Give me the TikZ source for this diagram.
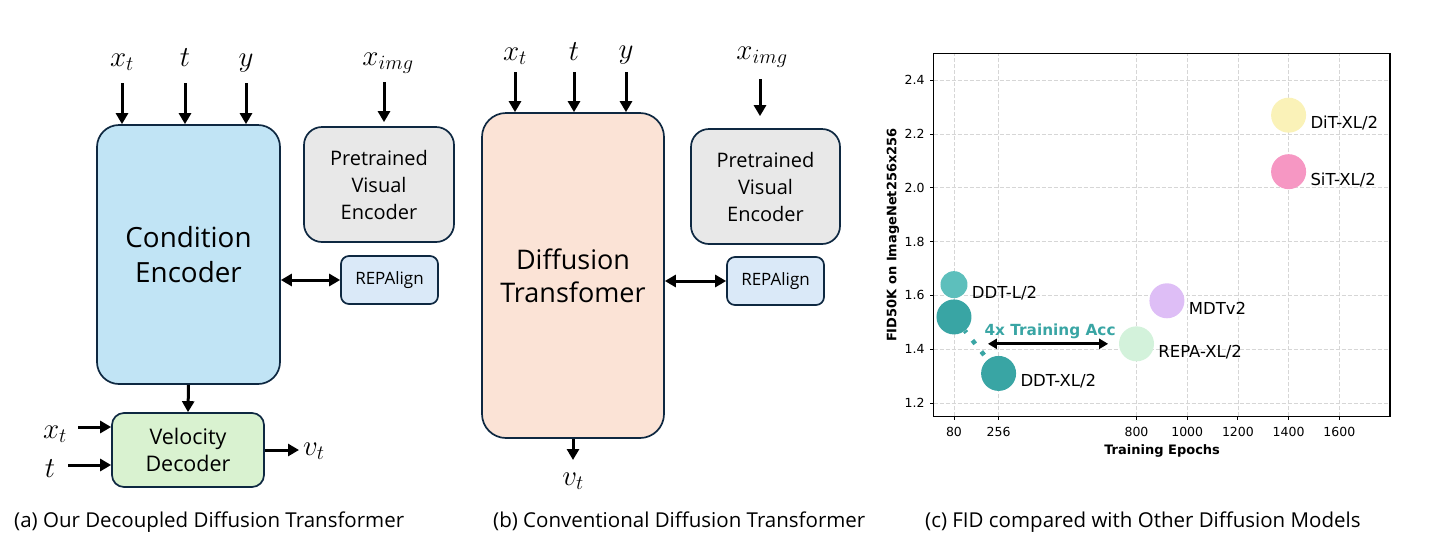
\RequirePackage{fix-cm}
\documentclass[tikz,border=0pt]{standalone}
\usepackage{fontspec}
\setmainfont{Open Sans}
\newfontfamily\plotfont{DejaVu Sans}
\usepackage{xcolor}
\usetikzlibrary{positioning,shapes,arrows.meta}

\definecolor{boxline}{HTML}{0E2841}
\definecolor{encblue}{HTML}{C1E4F5}
\definecolor{pregray}{HTML}{E8E8E8}
\definecolor{repblue}{HTML}{DAE9F8}
\definecolor{decgreen}{HTML}{D9F2D0}
\definecolor{ditpeach}{HTML}{FBE3D6}
\definecolor{dityellow}{HTML}{FAF2B8}
\definecolor{sitpink}{HTML}{F697C3}
\definecolor{mdtpurple}{HTML}{DEBEF6}
\definecolor{repagreen}{HTML}{D3F2DB}
\definecolor{ddtlight}{HTML}{5DBFBC}
\definecolor{ddtdark}{HTML}{39A5A4}
\definecolor{gridgray}{HTML}{D6D6D6}

\begin{document}
\begin{tikzpicture}[x=1pt, y=-1pt,
block/.style={draw=boxline, line width=1.7pt, align=center, inner sep=0pt},
inlabel/.style={font=\fontsize{29}{30}\selectfont, inner sep=1pt, anchor=base},
arr/.style={-{Triangle[length=11pt, width=12pt]}, line width=3pt},
darr/.style={{Triangle[length=11pt, width=12pt]}-{Triangle[length=11pt, width=12pt]}, line width=3pt},
caption/.style={font=\fontsize{20.5}{22}\selectfont, anchor=base west, inner sep=0pt},
grid/.style={gridgray, line width=0.7pt, dash pattern=on 4pt off 2pt},
bubble/.style={circle, minimum size=35pt, inner sep=0pt},
plabel/.style={font=\plotfont\fontsize{16.5}{18}\selectfont, inner sep=0pt, right=4pt of #1, yshift=-8pt},
ytick/.style={font=\plotfont\fontsize{12.5}{14}\selectfont, inner sep=0pt, anchor=east, xshift=-9pt},
xtick/.style={font=\plotfont\fontsize{12.5}{14}\selectfont, inner sep=0pt, anchor=north, yshift=-10.5pt},
]
\useasboundingbox (0,0) rectangle (1456,542);

% (a) decoupled
\node[block, fill=encblue, minimum width=183pt, minimum height=259pt, rounded corners=22pt, font=\fontsize{27.8}{35}\selectfont] (ce) at (188.5,254.5) {Condition\\Encoder};
\node[block, fill=pregray, minimum width=150pt, minimum height=115pt, rounded corners=18pt, font=\fontsize{20}{27}\selectfont] (pve) at (379,184.5) {Pretrained\\Visual\\Encoder};
\node[block, fill=repblue, minimum width=97pt, minimum height=48pt, rounded corners=8pt, font=\fontsize{17}{18}\selectfont] (rep) at (389.5,280) {REPAlign};
\node[block, fill=decgreen, minimum width=152pt, minimum height=74pt, rounded corners=12pt, font=\fontsize{21.5}{27}\selectfont] (vd) at (188,450) {Velocity\\Decoder};

\node[inlabel] (xt) at (122,66) {$x_t$};
\node[inlabel] (t) at (185,66) {$t$};
\node[inlabel] (y) at (246,66) {$y$};
\node[inlabel] (ximg) at (388,65) {$x_{img}$};
\node[inlabel] (xtd) at (55,438) {$x_t$};
\node[inlabel] (td) at (50,477) {$t$};
\node[inlabel, anchor=base west] (vt) at (302,455) {$v_t$};

\draw[arr] ([yshift=-17pt]xt.base) -- (xt.base |- ce.north);
\draw[arr] ([yshift=-17pt]t.base) -- (t.base |- ce.north);
\draw[arr] ([yshift=-17pt]y.base) -- (y.base |- ce.north);
\draw[arr] ([yshift=-17pt,xshift=-4pt]ximg.base) -- ([xshift=-4pt,yshift=4pt]ximg.base |- pve.north);
\draw[darr] (ce.east |- rep.west) -- (rep.west);
\draw[arr] (ce.south) -- (vd.north);
\draw[arr] ([xshift=10pt,yshift=11pt]xtd.base east) -- ([yshift=11pt]xtd.base -| vd.west);
\draw[arr] ([xshift=12pt,yshift=12pt]td.base east) -- ([yshift=12pt]td.base -| vd.west);
\draw[arr, shorten >=3pt] (vd.east) -- (vd.east -| vt.west);

% (b) conventional
\node[block, fill=ditpeach, minimum width=182pt, minimum height=325pt, rounded corners=24pt, font=\fontsize{27}{33}\selectfont] (dt) at (573,275.5) {Diffusion\\Transfomer};
\node[block, fill=pregray, minimum width=149pt, minimum height=115pt, rounded corners=18pt, font=\fontsize{20}{27}\selectfont] (pve2) at (765.5,186.5) {Pretrained\\Visual\\Encoder};
\node[block, fill=repblue, minimum width=97pt, minimum height=48pt, rounded corners=8pt, font=\fontsize{17}{18}\selectfont] (rep2) at (775.5,281) {REPAlign};

\node[inlabel] (xt2) at (515,60) {$x_t$};
\node[inlabel] (t2) at (574,60) {$t$};
\node[inlabel] (y2) at (626,58) {$y$};
\node[inlabel] (ximg2) at (762,59) {$x_{img}$};
\node[inlabel] (vt2) at (573,485) {$v_t$};

\draw[arr] ([yshift=-12pt]xt2.base) -- (xt2.base |- dt.north);
\draw[arr] ([yshift=-12pt]t2.base) -- (t2.base |- dt.north);
\draw[arr] ([yshift=-14pt]y2.base) -- (y2.base |- dt.north);
\draw[arr] ([yshift=-20pt,xshift=-2pt]ximg2.base) -- ([xshift=-2pt,yshift=12pt]ximg2.base |- pve2.north);
\draw[darr] (dt.east |- rep2.west) -- (rep2.west);
\draw[arr] (dt.south) -- ([yshift=25pt]vt2.base);

% (c) FID plot
\begin{scope}[shift={(933.7pt,-725.8pt)}, x=0.2535pt, y=269pt]
	\draw[grid] (80,1.15) -- (80,2.5);
	\draw[grid] (256,1.15) -- (256,2.5);
	\draw[grid] (800,1.15) -- (800,2.5);
	\draw[grid] (1000,1.15) -- (1000,2.5);
	\draw[grid] (1200,1.15) -- (1200,2.5);
	\draw[grid] (1400,1.15) -- (1400,2.5);
	\draw[grid] (1600,1.15) -- (1600,2.5);
	\draw[grid] (0,1.2) -- (1800,1.2);
	\draw[grid] (0,1.4) -- (1800,1.4);
	\draw[grid] (0,1.6) -- (1800,1.6);
	\draw[grid] (0,1.8) -- (1800,1.8);
	\draw[grid] (0,2.0) -- (1800,2.0);
	\draw[grid] (0,2.2) -- (1800,2.2);
	\draw[grid] (0,2.4) -- (1800,2.4);

	\draw[black, line width=1.2pt] (0,1.15) rectangle (1800,2.5);

	\draw[line width=0.9pt] (80,1.15) -- ++(0,-3.5pt);
	\draw[line width=0.9pt] (256,1.15) -- ++(0,-3.5pt);
	\draw[line width=0.9pt] (800,1.15) -- ++(0,-3.5pt);
	\draw[line width=0.9pt] (1000,1.15) -- ++(0,-3.5pt);
	\draw[line width=0.9pt] (1200,1.15) -- ++(0,-3.5pt);
	\draw[line width=0.9pt] (1400,1.15) -- ++(0,-3.5pt);
	\draw[line width=0.9pt] (1600,1.15) -- ++(0,-3.5pt);
	\draw[line width=0.9pt] (0,1.2) -- ++(-3.5pt,0);
	\draw[line width=0.9pt] (0,1.4) -- ++(-3.5pt,0);
	\draw[line width=0.9pt] (0,1.6) -- ++(-3.5pt,0);
	\draw[line width=0.9pt] (0,1.8) -- ++(-3.5pt,0);
	\draw[line width=0.9pt] (0,2.0) -- ++(-3.5pt,0);
	\draw[line width=0.9pt] (0,2.2) -- ++(-3.5pt,0);
	\draw[line width=0.9pt] (0,2.4) -- ++(-3.5pt,0);

	\node[xtick] (x80) at (80,1.15) {80};
	\node[xtick] (x256) at (256,1.15) {256};
	\node[xtick] (x800) at (800,1.15) {800};
	\node[xtick] (x1000) at (1000,1.15) {1000};
	\node[xtick] (x1200) at (1200,1.15) {1200};
	\node[xtick] (x1400) at (1400,1.15) {1400};
	\node[xtick] (x1600) at (1600,1.15) {1600};
	\node[ytick] (y12) at (0,1.2) {1.2};
	\node[ytick] (y14) at (0,1.4) {1.4};
	\node[ytick] (y16) at (0,1.6) {1.6};
	\node[ytick] (y18) at (0,1.8) {1.8};
	\node[ytick] (y20) at (0,2.0) {2.0};
	\node[ytick] (y22) at (0,2.2) {2.2};
	\node[ytick] (y24) at (0,2.4) {2.4};

	\node[font=\plotfont\bfseries\fontsize{13}{15}\selectfont, inner sep=0pt] (xlab) at (901,1.022) {Training Epochs};
	\node[font=\plotfont\bfseries\fontsize{13}{15}\selectfont, inner sep=0pt, rotate=90] (ylab) at (-160.5,1.8245) {FID50K on ImageNet256x256};

	% bubbles
	\node[bubble] (ddt80) at (80,1.52) {};
	\node[bubble] (ddt256) at (256,1.31) {};
	\draw[ddtdark, line width=4.5pt, dash pattern=on 4.5pt off 9.8pt, dash phase=2.2pt] (ddt80) -- (ddt256);
	\node[bubble, fill=dityellow] (dit) at (1400,2.27) {};
	\node[bubble, fill=sitpink] (sit) at (1400,2.06) {};
	\node[bubble, fill=mdtpurple] (mdt) at (920,1.58) {};
	\node[bubble, fill=repagreen] (repa) at (800,1.42) {};
	\node[bubble, fill=ddtlight, minimum size=27pt] (ddtl) at (80,1.64) {};
	\node[bubble, fill=ddtdark] at (ddt80) {};
	\node[bubble, fill=ddtdark] at (ddt256) {};

	\node[plabel=dit] (ditlab) {DiT-XL/2};
	\node[plabel=sit] (sitlab) {SiT-XL/2};
	\node[plabel=mdt] (mdtlab) {MDTv2};
	\node[plabel=repa] (repalab) {REPA-XL/2};
	\node[plabel=ddtl] (ddtllab) {DDT-L/2};
	\node[plabel=ddt256] (ddtxllab) {DDT-XL/2};

	\node[font=\plotfont\bfseries\fontsize{15.3}{17}\selectfont, text=ddtdark, inner sep=0pt] (acc) at (459,1.468) {4x Training Acc};
	\coordinate (accl) at (214,1.42);
	\coordinate (accr) at (688,1.42);
	\draw[{Triangle[length=9pt, width=10pt]}-{Triangle[length=9pt, width=10pt]}, line width=2.8pt] (accl) -- (accr);
\end{scope}

% captions
\node[caption] (capa) at (14,527) {(a) Our Decoupled Diffusion Transformer};
\node[caption] (capb) at (493,527) {(b) Conventional Diffusion Transformer};
\node[caption] (capc) at (925,527) {(c) FID compared with Other Diffusion Models};
\end{tikzpicture}
\end{document}
